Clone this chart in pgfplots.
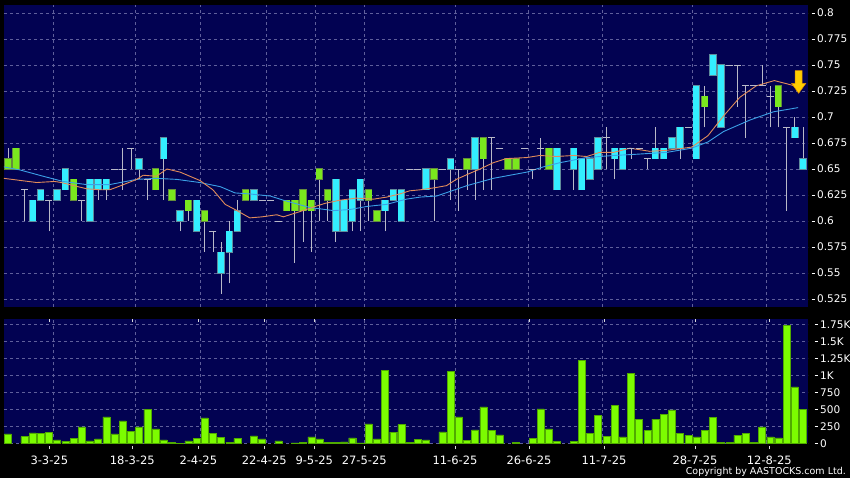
\documentclass[border=0pt]{standalone}
\usepackage{pgfplots}
\pgfplotsset{compat=1.18}
\usepackage{pgfplotstable}
\usepackage{fontspec}
\setmainfont{DejaVu Sans}
\definecolor{navy}{RGB}{2,2,82}
\definecolor{gridc}{RGB}{95,95,155}
\definecolor{cyanf}{RGB}{51,238,255}
\definecolor{cyanb}{RGB}{95,140,155}
\definecolor{greenf}{RGB}{122,232,30}
\definecolor{greenb}{RGB}{100,140,60}
\definecolor{volf}{RGB}{124,252,0}
\definecolor{volb}{RGB}{80,170,0}
\definecolor{wick}{RGB}{185,185,200}
\definecolor{maor}{RGB}{226,140,90}
\definecolor{mabl}{RGB}{60,160,230}
\definecolor{arrf}{RGB}{255,205,0}
\definecolor{arrb}{RGB}{225,140,0}
\newcommand{\tk}{\rule[3.4pt]{3pt}{0.7pt}\hspace{2.5pt}}
\pgfplotsset{nomark/.style={only marks, mark=*, mark size=0pt, mark options={draw opacity=0, fill opacity=0}}}

% cyan candles: body bottom/top
\pgfplotstableread{
i bl bh
3 0.60 0.62
4 0.62 0.63
6 0.62 0.63
7 0.63 0.65
10 0.60 0.64
11 0.63 0.64
12 0.63 0.64
16 0.65 0.66
19 0.66 0.68
21 0.60 0.61
23 0.59 0.62
26 0.55 0.57
27 0.57 0.59
28 0.59 0.61
30 0.62 0.63
40 0.59 0.64
41 0.59 0.62
42 0.60 0.63
43 0.62 0.64
46 0.61 0.62
47 0.62 0.63
48 0.60 0.63
51 0.63 0.65
54 0.65 0.66
57 0.65 0.68
67 0.63 0.67
69 0.65 0.67
70 0.63 0.66
71 0.64 0.66
72 0.65 0.68
74 0.66 0.67
75 0.65 0.67
79 0.66 0.67
80 0.66 0.67
81 0.67 0.68
82 0.67 0.69
84 0.66 0.73
86 0.74 0.76
87 0.69 0.75
96 0.68 0.69
97 0.65 0.66
}\cyantab

% green candles: body bottom/top
\pgfplotstableread{
i bl bh
0 0.65 0.66
1 0.65 0.67
8 0.62 0.64
18 0.63 0.65
20 0.62 0.63
22 0.61 0.62
24 0.60 0.61
29 0.62 0.63
34 0.61 0.62
35 0.61 0.62
36 0.61 0.63
37 0.61 0.62
38 0.64 0.65
39 0.62 0.63
44 0.62 0.63
45 0.60 0.61
52 0.64 0.65
56 0.65 0.66
58 0.66 0.68
61 0.65 0.66
62 0.65 0.66
66 0.65 0.67
85 0.71 0.72
94 0.71 0.73
}\greentab

% flat candles (open = close)
\pgfplotstableread{
i v
2 0.63
5 0.62
9 0.62
13 0.65
14 0.65
15 0.67
17 0.64
25 0.59
31 0.62
32 0.62
33 0.60
49 0.65
50 0.65
53 0.65
55 0.65
59 0.68
60 0.67
63 0.67
64 0.65
65 0.67
73 0.68
76 0.67
77 0.67
78 0.66
83 0.69
88 0.75
89 0.75
90 0.73
91 0.73
92 0.73
93 0.72
95 0.69
}\dojitab

% wicks: low / high
\pgfplotstableread{
i l h
0 0.65 0.67
1 0.65 0.67
2 0.60 0.63
3 0.60 0.62
4 0.62 0.63
5 0.59 0.62
6 0.62 0.63
7 0.63 0.65
8 0.62 0.64
9 0.60 0.62
10 0.60 0.64
11 0.62 0.64
12 0.62 0.64
14 0.63 0.67
15 0.65 0.67
16 0.64 0.66
17 0.62 0.64
18 0.63 0.65
19 0.62 0.68
20 0.62 0.63
21 0.59 0.61
22 0.60 0.62
23 0.59 0.62
24 0.57 0.61
25 0.57 0.59
26 0.53 0.58
27 0.54 0.60
28 0.59 0.62
29 0.62 0.63
30 0.62 0.63
34 0.61 0.62
35 0.56 0.62
36 0.58 0.63
37 0.57 0.62
38 0.60 0.65
39 0.60 0.63
40 0.58 0.64
41 0.59 0.62
42 0.59 0.63
43 0.59 0.64
44 0.60 0.63
45 0.60 0.61
46 0.59 0.62
47 0.62 0.63
48 0.60 0.63
51 0.63 0.65
52 0.60 0.65
54 0.62 0.66
55 0.61 0.65
56 0.63 0.66
57 0.62 0.68
58 0.63 0.68
59 0.63 0.68
61 0.65 0.66
62 0.65 0.66
64 0.64 0.65
65 0.65 0.68
66 0.65 0.67
67 0.63 0.67
69 0.63 0.67
70 0.63 0.66
71 0.64 0.66
72 0.65 0.68
73 0.65 0.69
74 0.64 0.67
75 0.65 0.67
76 0.66 0.67
78 0.65 0.66
79 0.66 0.69
80 0.66 0.67
81 0.67 0.68
82 0.66 0.69
84 0.66 0.73
85 0.69 0.73
86 0.74 0.76
87 0.69 0.75
89 0.71 0.75
90 0.68 0.73
92 0.73 0.75
93 0.69 0.73
94 0.69 0.73
95 0.61 0.69
96 0.68 0.70
97 0.65 0.69
}\wicktab

% volume (K)
\pgfplotstableread{
i v
0 142
2 103
3 157
4 152
5 167
6 54
7 34
8 74
9 245
10 39
11 69
12 392
13 142
14 333
15 176
16 245
17 505
18 216
19 54
20 20
21 5
22 39
23 74
24 377
25 152
26 93
27 15
28 74
30 113
31 69
33 39
35 10
36 20
37 98
38 69
39 20
40 20
41 25
42 83
43 10
44 289
45 69
46 1078
47 167
48 279
49 20
50 59
51 54
53 172
54 1064
55 392
56 44
57 201
58 539
59 196
60 127
62 15
64 74
65 510
66 216
67 34
69 34
70 1230
71 152
72 412
73 103
74 564
75 98
76 1034
77 358
78 191
79 358
80 431
81 495
82 147
83 118
84 98
85 196
86 387
87 20
88 15
89 123
90 147
91 20
92 245
93 98
94 83
95 1740
96 833
97 505
}\voltab

\begin{document}
\begin{tikzpicture}[x=1pt,y=1pt]
\fill[black] (0,0) rectangle (850,478);
\path[use as bounding box] (0,0) rectangle (850,478);

\begin{axis}[
  at={(4pt,171pt)}, anchor=south west, scale only axis,
  width=804pt, height=302pt,
  xmin=-0.488, xmax=97.61, ymin=0.5173, ymax=0.8077,
  axis background/.style={fill=navy},
  axis line style={draw=none},
  xtick={5.53,15.53,23.46,31.54,37.52,43.47,54.54,63.48,72.51,83.49,92.57},
  xticklabel={},
  ytick={0.525,0.55,0.575,0.6,0.625,0.65,0.675,0.7,0.725,0.75,0.775,0.8},
  yticklabels={\tk 0.525,\tk 0.55,\tk 0.575,\tk 0.6,\tk 0.625,\tk 0.65,\tk 0.675,\tk 0.7,\tk 0.725,\tk 0.75,\tk 0.775,\tk 0.8},
  yticklabel pos=right,
  yticklabel style={anchor=west, inner sep=0pt, xshift=3.5pt, text=white, font=\fontsize{10.5}{12}\selectfont},
  xmajorgrids, ymajorgrids,
  major grid style={gridc, dash pattern=on 3pt off 3pt, line width=0.5pt},
  major tick length=0pt, tick style={draw=none},
]
% wicks
\addplot[nomark, wick, error bars/.cd, y dir=plus, y explicit, error mark=none,
  error bar style={line width=0.8pt, wick}]
  table[x=i, y=l, y error plus expr=\thisrow{h}-\thisrow{l}] {\wicktab};
% flat candles
\addplot[only marks, mark=-, mark size=3.5pt, mark options={wick, line width=0.9pt}]
  table[x=i, y=v] {\dojitab};
% cyan bodies
\addplot[nomark, cyanb, error bars/.cd, y dir=plus, y explicit, error mark=none,
  error bar style={line width=7.4pt, cyanb}]
  table[x=i, y expr=\thisrow{bl}-0.0005, y error plus expr=\thisrow{bh}-\thisrow{bl}+0.001] {\cyantab};
\addplot[nomark, cyanf, error bars/.cd, y dir=plus, y explicit, error mark=none,
  error bar style={line width=6pt, cyanf}]
  table[x=i, y=bl, y error plus expr=\thisrow{bh}-\thisrow{bl}] {\cyantab};
% green bodies
\addplot[nomark, greenb, error bars/.cd, y dir=plus, y explicit, error mark=none,
  error bar style={line width=7.4pt, greenb}]
  table[x=i, y expr=\thisrow{bl}-0.0005, y error plus expr=\thisrow{bh}-\thisrow{bl}+0.001] {\greentab};
\addplot[nomark, greenf, error bars/.cd, y dir=plus, y explicit, error mark=none,
  error bar style={line width=6pt, greenf}]
  table[x=i, y=bl, y error plus expr=\thisrow{bh}-\thisrow{bl}] {\greentab};
% moving averages
\addplot[mabl, line width=0.9pt, mark=none] coordinates {
(-0.5,0.652)(1.5,0.649)(4.3,0.643)(6.75,0.638)(9.6,0.635)(12.4,0.635)(15.7,0.640)(18.1,0.641)(20.6,0.640)(23.4,0.637)(25.9,0.633)(27.7,0.627)(29.5,0.626)(32.0,0.624)(33.6,0.620)(36.8,0.613)(39.7,0.610)(41.7,0.611)(43.8,0.614)(46.2,0.616)(48.6,0.621)(50.3,0.623)(52.3,0.624)(56.0,0.634)(59.2,0.641)(63.3,0.647)(65.3,0.652)(67.3,0.656)(70.6,0.661)(73.9,0.663)(76.3,0.664)(80.4,0.666)(83.4,0.670)(85.4,0.676)(87.3,0.686)(90.5,0.697)(93.4,0.705)(96.4,0.709)};
\addplot[maor, line width=0.9pt, mark=none] coordinates {
(-0.5,0.641)(3.5,0.637)(5.7,0.638)(6.5,0.637)(8.0,0.634)(9.6,0.631)(11.2,0.630)(12.4,0.630)(13.1,0.632)(14.1,0.635)(15.7,0.640)(16.5,0.644)(18.1,0.643)(19.4,0.650)(21.0,0.647)(23.4,0.639)(25.0,0.630)(26.5,0.616)(27.7,0.611)(29.5,0.603)(31.0,0.604)(32.8,0.606)(33.6,0.604)(35.6,0.609)(37.5,0.614)(38.7,0.617)(40.5,0.620)(42.5,0.622)(44.6,0.621)(46.2,0.623)(47.8,0.626)(49.0,0.629)(50.3,0.630)(52.1,0.632)(53.5,0.634)(54.7,0.640)(56.4,0.646)(57.6,0.650)(59.2,0.656)(60.8,0.660)(63.3,0.661)(64.9,0.663)(66.9,0.662)(69.0,0.663)(70.6,0.662)(72.2,0.666)(73.9,0.666)(75.9,0.670)(78.3,0.667)(80.4,0.668)(83.4,0.671)(85.4,0.682)(87.3,0.701)(89.3,0.719)(91.3,0.730)(93.5,0.735)(95.0,0.732)(96.4,0.729)};
% signal arrow
\addplot[fill=arrf, draw=arrb, line width=0.5pt, mark=none] coordinates {
(96.05,0.7445)(96.9,0.7445)(96.9,0.7324)(97.35,0.7324)(96.47,0.7228)(95.6,0.7324)(96.05,0.7324)(96.05,0.7445)};
\end{axis}

\begin{axis}[
  at={(4pt,34.5pt)}, anchor=south west, scale only axis,
  width=804pt, height=124.5pt,
  xmin=-0.488, xmax=97.61, ymin=0, ymax=1834,
  axis background/.style={fill=navy},
  axis line style={draw=none},
  xtick={5.04,15.17,23.22,31.27,37.37,43.47,54.54,63.57,72.72,83.82,92.89},
  xticklabels={3-3-25,18-3-25,2-4-25,22-4-25,9-5-25,27-5-25,11-6-25,26-6-25,11-7-25,28-7-25,12-8-25},
  xticklabel style={anchor=north, inner sep=0pt, yshift=-9pt, text=white, font=\fontsize{11.5}{13}\selectfont},
  extra x ticks={5.53,15.53,23.46,31.54,37.52,43.47,54.54,63.48,72.51,83.49,92.57},
  extra x tick labels={},
  extra x tick style={grid=major, major tick length=0pt},
  ytick={0,250,500,750,1000,1250,1500,1750},
  yticklabels={\tk 0,\tk 250,\tk 500,\tk 750,\tk 1K,\tk 1.25K,\tk 1.5K,\tk 1.75K},
  yticklabel pos=right,
  yticklabel style={anchor=west, inner sep=0pt, xshift=3.5pt, text=white, font=\fontsize{10.5}{12}\selectfont},
  ymajorgrids,
  major grid style={gridc, dash pattern=on 3pt off 3pt, line width=0.5pt},
  ytick style={draw=none},
  xtick style={draw=white!85!black, line width=0.6pt, yshift=-3pt},
  major tick length=3pt, tick align=outside,
]
\addplot[ybar, bar width=7pt, fill=volf, draw=volb, line width=0.4pt] table[x=i, y=v] {\voltab};
\end{axis}

\node[anchor=base east, inner sep=0pt, text=white, font=\fontsize{9.5}{11}\selectfont] at (846,3) {Copyright by AASTOCKS.com Ltd.};
\end{tikzpicture}
\end{document}
